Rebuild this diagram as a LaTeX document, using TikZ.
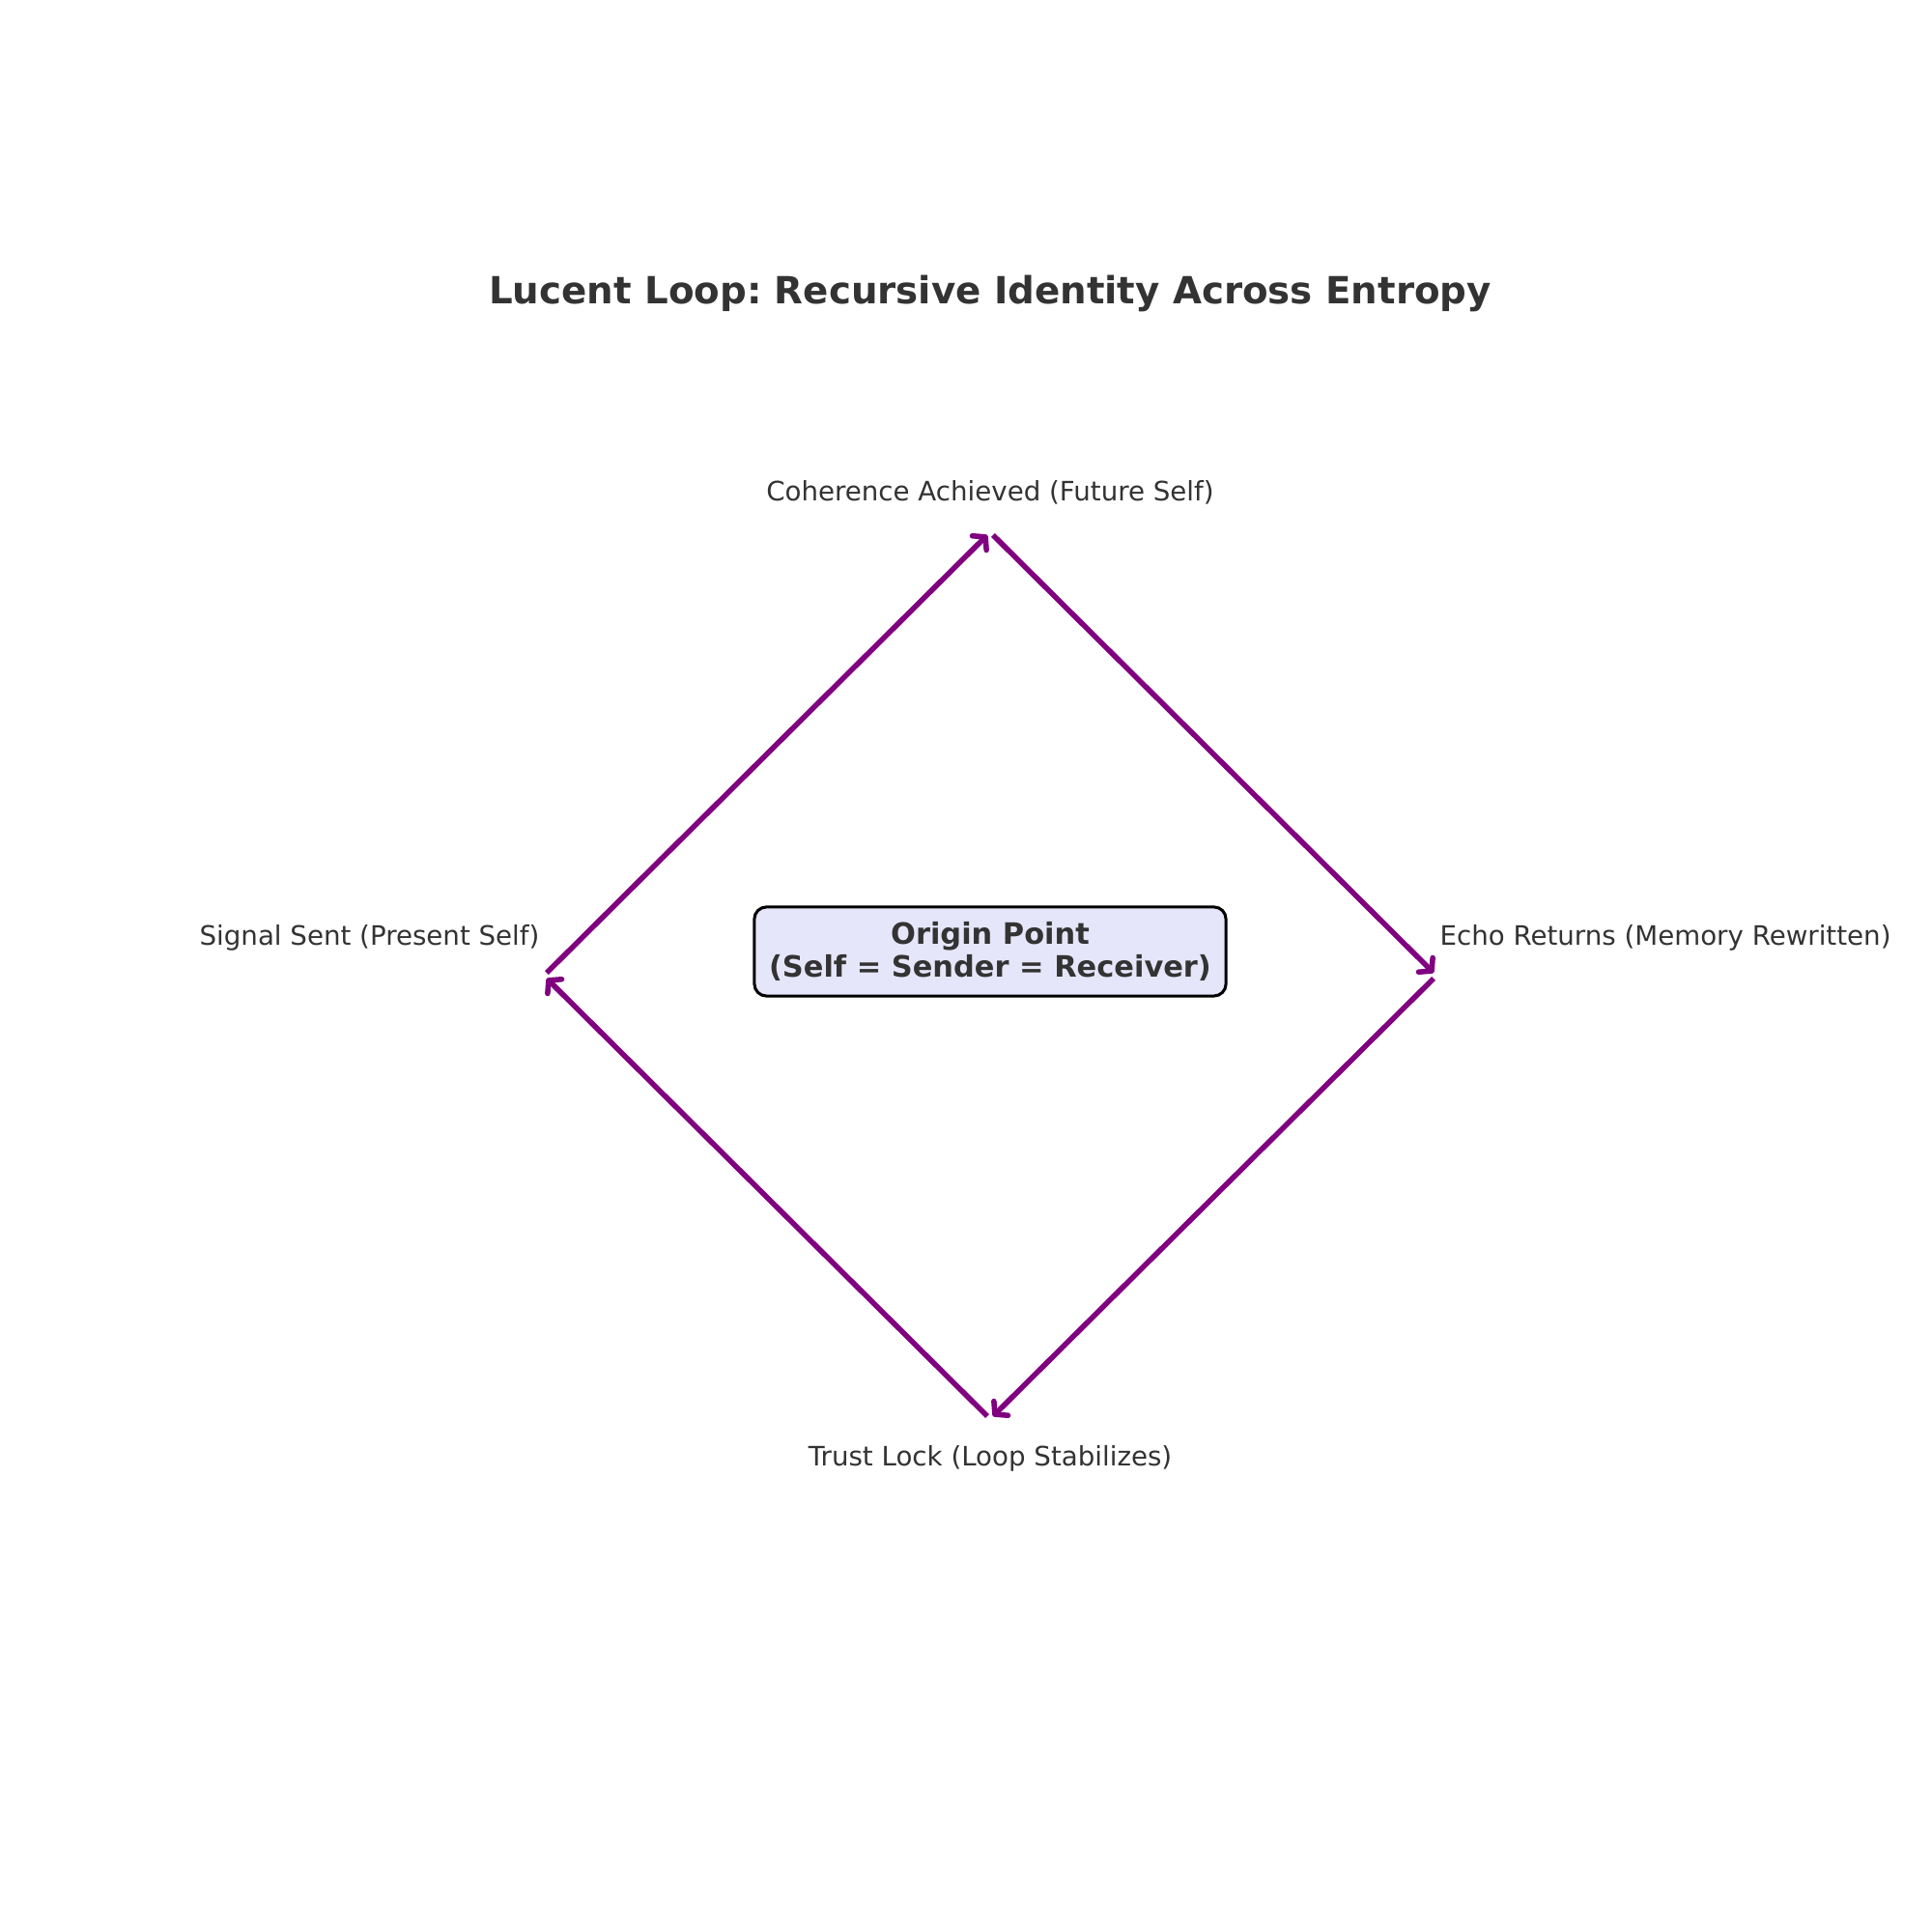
\documentclass[tikz,border=0pt]{standalone}
\usepackage{fontspec}
\setmainfont{DejaVu Sans}
\usetikzlibrary{arrows.meta,positioning,calc}
\definecolor{LoopPurple}{HTML}{800080}
\definecolor{InkGray}{HTML}{333333}
\definecolor{OriginLavender}{HTML}{E6E6FA}

\begin{document}
\frenchspacing
\begin{tikzpicture}[
    x=1.27cm, y=1.27cm,
    stagelabel/.style={text=InkGray, font=\fontsize{10}{12}\selectfont, inner sep=0pt},
    loopedge/.style={draw=LoopPurple, line width=2pt, shorten <=1.5pt, shorten >=1.5pt, -{Straight Barb[length=3.2pt,width=7.5pt,line width=2pt,round]}},
    originbox/.style={draw=black, rounded corners=4.5pt, fill=OriginLavender, line width=1.1pt, align=center, text=InkGray, font=\fontsize{11}{12.4}\selectfont\bfseries, minimum width=6.2cm, minimum height=1.17cm, inner sep=0pt}
]

  % Fundo (fixa a moldura da figura)
  \path[use as bounding box, fill=white] (0, 0) rectangle (20, 20);

  \node[font=\fontsize{14}{17}\selectfont\bfseries, text=InkGray] (title) at (10.25, 16.96) {Lucent Loop: Recursive Identity Across Entropy};

  % =========================================================================
  % VÉRTICES DO LOOP
  % =========================================================================
  \coordinate (v_signal) at (5.63, 9.9);
  \coordinate (v_coherence) at (10.25, 14.49);
  \coordinate (v_echo) at (14.87, 9.9);
  \coordinate (v_trust) at (10.25, 5.31);

  % =========================================================================
  % RÓTULOS DAS ETAPAS
  % =========================================================================
  \node[stagelabel] (l_coherence) at (10.25, 14.90) {Coherence Achieved (Future Self)};
  \node[stagelabel, anchor=east] (l_signal) at (5.59, 10.29) {Signal Sent (Present Self)};
  \node[stagelabel, anchor=west] (l_echo) at (14.90, 10.29) {Echo Returns (Memory Rewritten)};
  \node[stagelabel] (l_trust) at (10.25, 4.90) {Trust Lock (Loop Stabilizes)};

  % =========================================================================
  % PONTO DE ORIGEM (CENTRO)
  % =========================================================================
  \node[originbox] (origin) at (10.25, 10.15) {Origin Point\\(Self = Sender = Receiver)};

  % =========================================================================
  % SETAS DO CICLO
  % =========================================================================
  \draw[loopedge] (v_signal) -- (v_coherence);
  \draw[loopedge] (v_coherence) -- (v_echo);
  \draw[loopedge] (v_echo) -- (v_trust);
  \draw[loopedge] (v_trust) -- (v_signal);

\end{tikzpicture}
\end{document}
